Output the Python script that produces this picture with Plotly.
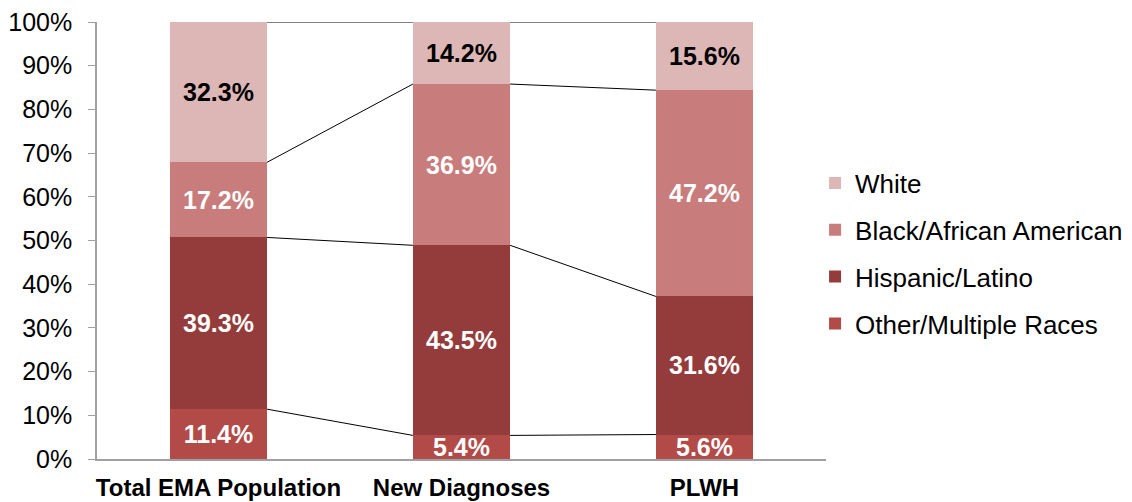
import plotly.graph_objects as go

categories = ["Total EMA Population", "New Diagnoses", "PLWH"]
other = [11.4, 5.4, 5.6]
hispanic = [39.3, 43.5, 31.6]
black = [17.2, 36.9, 47.2]
white = [32.3, 14.2, 15.6]

series = [
    ("Other/Multiple Races", other, "#B24A48", "white", 4),
    ("Hispanic/Latino", hispanic, "#943C3C", "white", 3),
    ("Black/African American", black, "#C87C7B", "white", 2),
    ("White", white, "#DDB6B6", "black", 1),
]

xs = list(range(len(categories)))
bar_w = 0.4
fig = go.Figure()
for name, vals, color, tcol, rank in series:
    fig.add_trace(go.Bar(
        x=xs, y=vals, name=name, width=bar_w,
        marker=dict(color=color, line=dict(width=0)),
        text=[f"{v:.1f}%" for v in vals],
        textposition="inside", insidetextanchor="middle",
        constraintext="none",
        textfont=dict(family="Liberation Sans", size=25, color=tcol, weight="bold"),
        legendgroup=name, legendrank=rank,
        hoverinfo="skip",
    ))

# connector lines at segment boundaries
cum = [0.0] * len(categories)
levels = []
for name, vals, color, tcol, rank in series:
    cum = [c + v for c, v in zip(cum, vals)]
    levels.append(list(cum))
for lev in levels:
    for i in range(len(categories) - 1):
        fig.add_trace(go.Scatter(
            x=[xs[i] + bar_w / 2, xs[i + 1] - bar_w / 2],
            y=[min(lev[i], 100), min(lev[i + 1], 100)],
            mode="lines", line=dict(color="black", width=1),
            showlegend=False, hoverinfo="skip",
        ))

fig.update_layout(
    barmode="stack",
    width=1132, height=502,
    margin=dict(l=97, r=306, t=22, b=43, autoexpand=False),
    plot_bgcolor="white", paper_bgcolor="white",
    font=dict(family="Liberation Sans", size=24, color="black"),
    showlegend=True,
    legend=dict(
        x=0.985, y=0.47, xanchor="left", yanchor="middle",
        traceorder="grouped", tracegroupgap=10,
        font=dict(size=26), itemwidth=30,
    ),
    xaxis=dict(
        tickvals=xs, ticktext=[f"<b>{c}</b>" for c in categories],
        range=[-0.5, 2.5], showline=True, linecolor="#A0A0A0", linewidth=1.5,
        ticks="", showgrid=False, zeroline=False, automargin=False,
        tickfont=dict(size=24), ticklabelstandoff=6,
    ),
    yaxis=dict(
        range=[0, 100], tickvals=list(range(0, 101, 10)),
        ticktext=[f"{v}%" for v in range(0, 101, 10)],
        showline=True, linecolor="#A0A0A0", linewidth=1.5,
        ticks="outside", ticklen=7, tickcolor="#A0A0A0",
        showgrid=False, zeroline=False, tickfont=dict(size=25),
        automargin=False, ticklabelstandoff=11,
    ),
)

fig.write_html("out.html", config={"displayModeBar": False},
               post_script="document.body.style.margin='0';")
